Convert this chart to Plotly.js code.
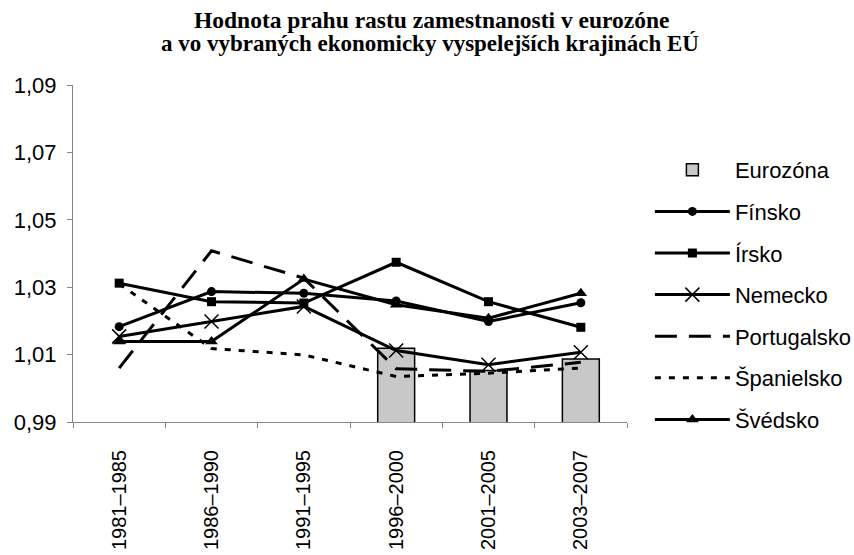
<!DOCTYPE html>
<html><head><meta charset="utf-8">
<script src="https://cdn.plot.ly/plotly-3.0.1.min.js"></script>
<style>body{margin:0;background:#fff}#c{width:854px;height:555px}</style>
</head><body><div id="c"></div>
<script>
const categories = ["1981–1985","1986–1990","1991–1995","1996–2000","2001–2005","2003–2007"];
const eurozona   = [null, null, null, 1.0119, 1.0053, 1.0087];
const finsko     = [1.0183, 1.0287, 1.0282, 1.0259, 1.0198, 1.0254];
const irsko      = [1.0312, 1.0257, 1.0253, 1.0374, 1.0257, 1.0181];
const nemecko    = [1.0154, 1.0198, 1.0243, 1.0112, 1.0070, 1.0107];
const portugalsko= [1.0060, 1.0408, 1.0327, 1.0058, 1.0050, 1.0077];
const spanielsko = [1.0310, 1.0118, 1.0099, 1.0035, 1.0045, 1.0060];
const svedsko    = [1.0139, 1.0139, 1.0324, 1.0248, 1.0208, 1.0282];
const yTicks = [0.99, 1.01, 1.03, 1.05, 1.07, 1.09];
const titleLines = ["Hodnota prahu rastu zamestnanosti v eurozóne",
                    "a vo vybraných ekonomicky vyspelejších krajinách EÚ"];

const F = "Liberation Sans, Arial, sans-serif";
const SERIF = "Liberation Serif, Times New Roman, serif";
function line(name, y, extra, i) {
  return Object.assign({type:"scatter", mode:"lines+markers", name, x:categories, y,
    legendgroup:"g"+i, line:{color:"#000", width:3}, marker:{color:"#000", size:9}}, extra);
}
const traces = [
  {type:"bar", name:"Eurozóna", x:categories, y:eurozona, width:0.4, legendgroup:"g0",
   marker:{color:"#c8c8c8", line:{color:"#000", width:1.5}}},
  line("Fínsko", finsko, {marker:{symbol:"circle", color:"#000", size:9}}, 1),
  line("Írsko", irsko, {marker:{symbol:"square", color:"#000", size:9}}, 2),
  line("Nemecko", nemecko, {marker:{symbol:"x-thin-open", color:"#000", size:14, line:{color:"#000", width:1.5}}}, 3),
  line("Portugalsko", portugalsko, {mode:"lines", line:{color:"#000", width:3, dash:"22px,12px"}}, 4),
  line("Španielsko", spanielsko, {mode:"lines", line:{color:"#000", width:3, dash:"6px,8px"}}, 5),
  line("Švédsko", svedsko, {marker:{symbol:"triangle-up", color:"#000", size:11}}, 6)
];
const layout = {
  width:854, height:555,
  margin:{l:73, r:227, t:85, b:133},
  paper_bgcolor:"#fff", plot_bgcolor:"#fff",
  separators:",.",
  font:{family:F, size:22, color:"#000"},
  annotations:[
    {text:"<b>"+titleLines[0]+"</b>", xref:"paper", yref:"paper", x:0.648, y:1.193, xanchor:"center", yanchor:"middle",
     showarrow:false, font:{family:SERIF, size:23.5, color:"#000"}},
    {text:"<b>"+titleLines[1]+"</b>", xref:"paper", yref:"paper", x:0.644, y:1.122, xanchor:"center", yanchor:"middle",
     showarrow:false, font:{family:SERIF, size:23, color:"#000"}}
  ],
  showlegend:true,
  legend:{xref:"container", yref:"container", x:0.761, xanchor:"left", y:0.7315, yanchor:"top", traceorder:"grouped",
    tracegroupgap:10, itemwidth:75, maxheight:1, font:{family:F, size:22, color:"#000"}, bgcolor:"rgba(0,0,0,0)"},
  xaxis:{type:"category", tickson:"boundaries", ticks:"outside", ticklen:5, tickcolor:"#888",
    showline:true, linecolor:"#888", linewidth:1, showgrid:false, tickangle:-90,
    tickfont:{family:F, size:20, color:"#000"}, ticklabelstandoff:19, range:[-0.5,5.5], fixedrange:true},
  yaxis:{range:[0.99,1.09], tickvals:yTicks, tickformat:".2f", ticks:"outside", ticklen:5, tickcolor:"#888",
    showline:true, linecolor:"#888", linewidth:1, showgrid:false, zeroline:false,
    tickfont:{family:F, size:22, color:"#000"}, ticklabelstandoff:6},
  bargap:0.6
};
Plotly.newPlot("c", traces, layout, {displayModeBar:false, staticPlot:true});
</script></body></html>
